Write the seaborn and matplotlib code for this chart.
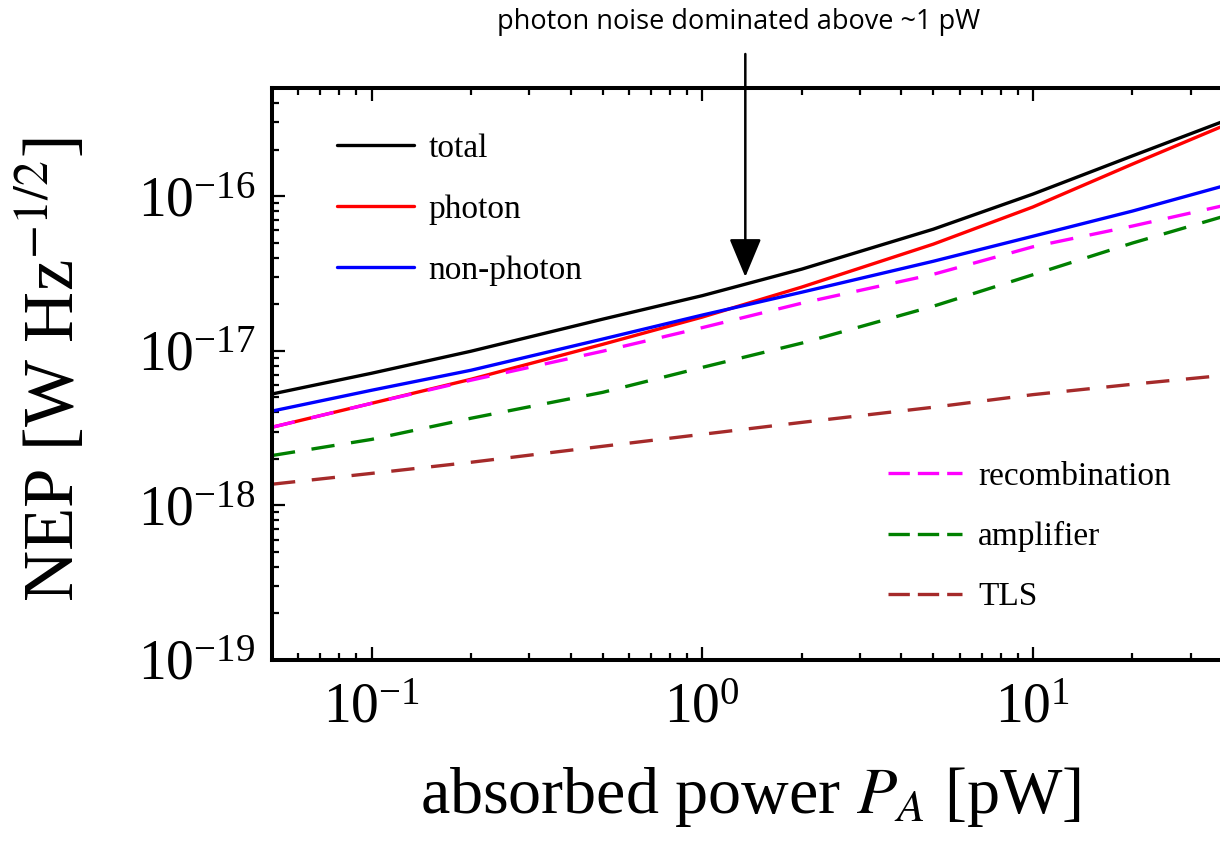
import numpy as np
import pandas as pd
import seaborn as sns
import matplotlib
matplotlib.use("Agg")
import matplotlib.pyplot as plt
from matplotlib.ticker import LogLocator, NullFormatter, LogFormatterSciNotation
from matplotlib.lines import Line2D

# ---- data ----
power = [0.05, 0.1, 0.2, 0.5, 1, 2, 5, 10, 20, 37]  # absorbed power [pW]
total = [5.25e-18, 7.15e-18, 9.93e-18, 1.60e-17, 2.27e-17, 3.37e-17, 6.11e-17, 1.03e-16, 1.82e-16, 3.0e-16]
photon = [3.2e-18, 4.57e-18, 6.54e-18, 1.10e-17, 1.65e-17, 2.58e-17, 4.89e-17, 8.5e-17, 1.61e-16, 2.8e-16]
non_photon = [4.07e-18, 5.55e-18, 7.48e-18, 1.19e-17, 1.70e-17, 2.39e-17, 3.79e-17, 5.5e-17, 8.0e-17, 1.15e-16]
recombination = [3.2e-18, 4.57e-18, 6.45e-18, 9.93e-18, 1.41e-17, 2.03e-17, 3.12e-17, 4.7e-17, 6.4e-17, 8.6e-17]
amplifier = [2.1e-18, 2.67e-18, 3.66e-18, 5.38e-18, 7.8e-18, 1.12e-17, 1.94e-17, 3.1e-17, 4.97e-17, 7.3e-17]
tls = [1.37e-18, 1.61e-18, 1.90e-18, 2.41e-18, 2.88e-18, 3.44e-18, 4.31e-18, 5.2e-18, 6.07e-18, 6.9e-18]

solid_names = ["total", "photon", "non-photon"]
dashed_names = ["recombination", "amplifier", "TLS"]
annotation_text = "photon noise dominated above ~1 pW"
arrow_power = 1.35
arrow_nep = 3.0e-17

# ---- style ----
sns.set_style("ticks")
plt.rcParams["font.family"] = ["Liberation Serif", "DejaVu Serif"]
plt.rcParams["mathtext.fontset"] = "stix"
for key in ["text.color", "axes.labelcolor", "xtick.color", "ytick.color", "axes.edgecolor"]:
    plt.rcParams[key] = "black"

fig = plt.figure(figsize=(12.2, 8.52), dpi=100)
ax = fig.add_axes([272 / 1220, 1 - 660 / 852, 948 / 1220, (660 - 88) / 852])

series = [
    ("total", total, "black", "-"),
    ("photon", photon, "#ff0000", "-"),
    ("non-photon", non_photon, "#0000ff", "-"),
    ("recombination", recombination, "#ff00ff", (0, (7, 5))),
    ("amplifier", amplifier, "#008000", (0, (7, 5))),
    ("TLS", tls, "#a52a2a", (0, (7, 5))),
]

df = pd.DataFrame({"power": power})
for name, vals, color, ls in series:
    df[name] = vals

handles = {}
for name, vals, color, ls in series:
    sns.lineplot(data=df, x="power", y=name, color=color, linewidth=2.4,
                 linestyle=ls, ax=ax, legend=False, sort=True)
    ax.lines[-1].set_label(name)
    if ls == "-":
        handles[name] = Line2D([], [], color=color, linewidth=2.4, linestyle="-")
    else:
        handles[name] = Line2D([], [], color=color, linewidth=2.4, linestyle=(0, (6.4, 2.4)))

ax.set_xscale("log")
ax.set_yscale("log")
ax.set_xlim(0.05, 36.8)
ax.set_ylim(1e-19, 5e-16)

for axis in (ax.xaxis, ax.yaxis):
    axis.set_major_locator(LogLocator(base=10, numticks=20))
    axis.set_minor_locator(LogLocator(base=10, subs=np.arange(2, 10), numticks=100))
    axis.set_minor_formatter(NullFormatter())
    axis.set_major_formatter(LogFormatterSciNotation())

ax.tick_params(which="both", direction="in", top=True, right=False, left=True, bottom=True,
               color="black", labelcolor="black")
ax.tick_params(which="major", length=9.5, width=1.6, labelsize=40)
ax.tick_params(which="minor", length=4.8, width=1.6)
ax.tick_params(axis="y", which="major", pad=12)
ax.tick_params(axis="x", which="major", pad=16)

for s in ["left", "bottom", "top"]:
    ax.spines[s].set_linewidth(2.9)
    ax.spines[s].set_color("black")
ax.spines["right"].set_visible(False)

ax.set_xlabel("absorbed power $P_A$ [pW]", fontsize=47.5)
ax.set_ylabel("NEP [W Hz$^{-1/2}$]", fontsize=51)
ax.xaxis.set_label_coords(0.504, -0.183)
ax.yaxis.set_label_coords(-0.193, 0.508)

leg1 = ax.legend([handles[n] for n in solid_names], solid_names, loc="upper left",
                 bbox_to_anchor=(0.0686, 0.921), frameon=False, fontsize=24,
                 handlelength=2.3, handletextpad=0.45, labelspacing=0.92,
                 borderpad=0, borderaxespad=0)
ax.add_artist(leg1)
ax.legend([handles[n] for n in dashed_names], dashed_names, loc="upper left",
          bbox_to_anchor=(0.65, 0.347), frameon=False, fontsize=24,
          handlelength=2.2, handletextpad=0.5, labelspacing=0.88,
          borderpad=0, borderaxespad=0)

ax.annotate("", xy=(arrow_power, arrow_nep), xycoords="data",
            xytext=(arrow_power, 1 - 54 / 852), textcoords=("data", "figure fraction"),
            arrowprops=dict(arrowstyle="-|>,head_length=1.2,head_width=0.5",
                            color="black", lw=1.8, mutation_scale=20, shrinkA=0, shrinkB=0),
            annotation_clip=False)
fig.text(739 / 1220, 1 - 22 / 852, annotation_text, ha="center", va="center",
         fontsize=19.5, color="black", family=["Open Sans", "DejaVu Sans"])

fig.savefig("out.png", dpi=100)
